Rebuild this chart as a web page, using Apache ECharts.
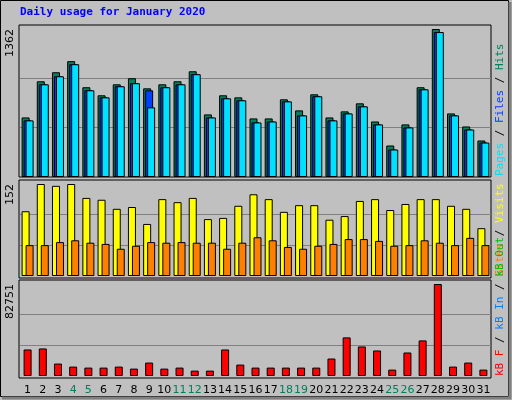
<!DOCTYPE html>
<html><head><meta charset="utf-8">
<script src="https://cdn.jsdelivr.net/npm/echarts@6/dist/echarts.min.js"></script>
<style>html,body{margin:0;padding:0;background:#c0c0c0}#c{width:512px;height:400px}</style>
</head><body><div id="c"></div>
<script>
const days = ['1','2','3','4','5','6','7','8','9','10','11','12','13','14','15','16','17','18','19','20','21','22','23','24','25','26','27','28','29','30','31'];
const weekend = ['4','5','11','12','18','19','25','26'];
const hits  = [548,881,964,1066,826,752,853,909,816,853,881,973,576,752,733,539,539,715,613,761,548,604,678,511,290,484,826,1362,585,465,336];
const files = [521,853,927,1038,798,733,835,863,798,826,853,946,548,724,706,502,511,696,567,743,521,585,650,484,253,456,807,1334,567,437,317];
const pages = [521,853,927,1038,798,733,835,863,641,826,853,946,548,724,706,502,511,696,567,743,521,585,650,484,253,456,807,1334,567,437,317];
const visits= [107,152,149,152,129,126,111,114,86,127,122,129,94,96,116,135,127,106,117,117,93,99,124,127,109,119,127,127,116,111,79];
const sites = [51,51,56,59,55,53,45,50,56,55,56,55,55,45,55,64,59,48,45,50,53,61,61,58,50,51,59,55,51,63,51];
const kbF   = [23858,24764,11174,8456,7550,7550,8456,6644,12080,6644,7550,4832,4832,23858,10268,7550,7550,7550,7550,7550,15704,34730,26576,22952,5738,21140,32012,82751,8456,12080,5738];
const maxTop = 1362, maxMid = 152, maxBot = 82751;

const chart = echarts.init(document.getElementById('c'));
const L = 20, R = 21;
const grids = [
  {left:L,right:R,top:29,height:148},
  {left:L,right:R,top:184,height:92},
  {left:L,right:R,top:284,height:92}
];
const mono = 'DejaVu Sans Mono';
function xAx(i, show){
  return {type:'category',gridIndex:i,data:days,boundaryGap:true,
    axisLine:{show:false},axisTick:{show:false},
    axisLabel:{show:show,interval:0,fontFamily:'DejaVu Sans',fontSize:11,margin:9,
      color:(v)=>weekend.includes(v)?'#00805c':'#000'}};
}
function yAx(i,max){
  return {type:'value',gridIndex:i,min:0,max:max,interval:max/3,
    axisLine:{show:false},axisTick:{show:false},
    splitLine:{show:true,lineStyle:{color:['transparent','#808080','#808080','transparent'],width:1}},
    axisLabel:{rotate:90,fontFamily:'DejaVu Sans',fontSize:11,color:'#000',margin:4,align:'right',
      formatter:(v)=>Math.abs(v-max)<0.01?String(max):''}};
}
const bs = {borderColor:'#000',borderWidth:1};
function rect(y,h){return {type:'rect',shape:{x:19,y:y,width:472,height:h},style:{fill:'#c0c0c0',stroke:'#000',lineWidth:1},z:-10,silent:true};}
function side(y, parts){
  return {type:'text',x:500,y:y,rotation:Math.PI/2,silent:true,
    style:{text:parts.map(p=>'{'+p[1]+'|'+p[0]+'}').join(''),
      rich:Object.fromEntries(parts.map(p=>[p[1],{fill:p[2],font:'11px "'+mono+'"'}])),
      align:'left',verticalAlign:'middle'}};
}
chart.setOption({
  backgroundColor:'#c0c0c0',
  animation:false,
  graphic:[
    {type:'rect',shape:{x:0.5,y:0.5,width:508,height:396},style:{fill:'none',stroke:'#000'},silent:true,z:-20},
    {type:'polyline',shape:{points:[[2,398],[510,398],[510,2]]},style:{stroke:'#808080',lineWidth:3,fill:'none'},silent:true},
    rect(25,152), rect(180,98), rect(280,98),
    {type:'text',x:20,y:7,style:{text:'Daily usage for January 2020',fill:'#0000ff',font:'bold 11px "'+mono+'"'},silent:true},
    side(176,[['Pages','a','#00e0ff'],[' / ','s','#000'],['Files','b','#0040ff'],[' / ','t','#000'],['Hits','c','#00805c']]),
    side(276,[['Sites','b','#ff8000'],[' / ','t','#000'],['Visits','c','#ffff00']]),
    side(376,[['kB F','a','#ff0000'],[' / ','s','#000'],['kB In','b','#0080ff'],[' / ','t','#000'],['kB Out','c','#00c000']])
  ],
  grid:grids,
  xAxis:[xAx(0,false),xAx(1,false),xAx(2,true)],
  yAxis:[yAx(0,maxTop),yAx(1,maxMid),yAx(2,maxBot)],
  series:[
    {type:'bar',name:'Hits',xAxisIndex:0,yAxisIndex:0,data:hits,barWidth:8,barGap:'-75%',itemStyle:{color:'#00805c',...bs}},
    {type:'bar',name:'Files',xAxisIndex:0,yAxisIndex:0,data:files,barWidth:8,barGap:'-75%',itemStyle:{color:'#0040ff',...bs}},
    {type:'bar',name:'Pages',xAxisIndex:0,yAxisIndex:0,data:pages,barWidth:8,barGap:'-75%',itemStyle:{color:'#00e0ff',...bs}},
    {type:'bar',name:'Visits',xAxisIndex:1,yAxisIndex:1,data:visits,barWidth:8,barGap:'-50%',itemStyle:{color:'#ffff00',...bs}},
    {type:'bar',name:'Sites',xAxisIndex:1,yAxisIndex:1,data:sites,barWidth:8,barGap:'-50%',itemStyle:{color:'#ff8000',...bs}},
    {type:'bar',name:'kB F',xAxisIndex:2,yAxisIndex:2,data:kbF,barWidth:8,itemStyle:{color:'#ff0000',...bs}}
  ]
});
</script></body></html>
